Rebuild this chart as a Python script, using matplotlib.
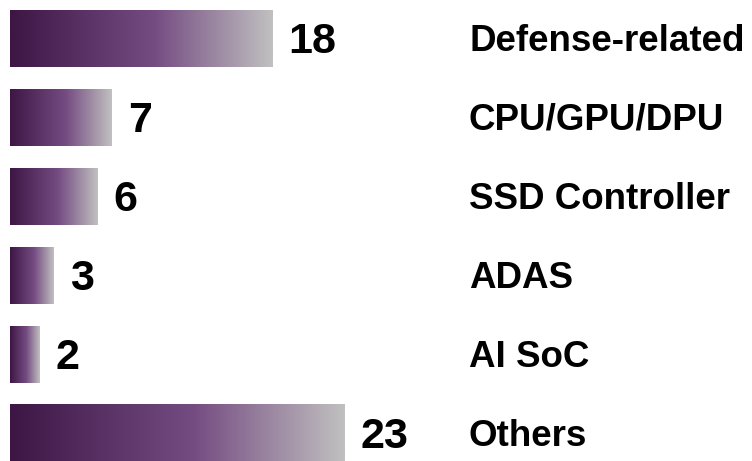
import numpy as np
import matplotlib
matplotlib.use('Agg')
import matplotlib.pyplot as plt
from matplotlib.colors import LinearSegmentedColormap

plt.rcParams['font.family'] = ['Liberation Sans', 'DejaVu Sans']

# data
categories = ['Defense-related', 'CPU/GPU/DPU', 'SSD Controller', 'ADAS', 'AI SoC', 'Others']
counts = [18, 7, 6, 3, 2, 23]

# purple -> grey fade used inside every bar
cmap = LinearSegmentedColormap.from_list(
    'fade', [(0.0, '#3d1645'), (0.55, '#754c82'), (1.0, '#c0c0c0')])

fig = plt.figure(figsize=(7.52, 4.61), dpi=100)
ax = fig.add_axes([0, 0, 1, 1])

px = 14.56   # pixels per unit along x
py = 79.0    # pixels per row
bar_h = 0.72

grad = np.linspace(0, 1, 256).reshape(1, -1)
for i, (cat, n) in enumerate(zip(categories, counts)):
    ax.imshow(grad, cmap=cmap, aspect='auto', interpolation='bilinear',
              extent=(0, n, i + bar_h / 2, i - bar_h / 2))
    # baseline placed so the glyphs sit centred on the bar
    ax.text(n + 16 / px, i + 14.8 / py, str(n), fontsize=31, fontweight='bold',
            va='baseline', ha='left', color='black')
    ax.text(459 / px, i + 12.5 / py, cat, fontsize=26.5, fontweight='bold',
            va='baseline', ha='left', color='black')

# imshow resets limits, put them back
ax.set_xlim(-10 / px, 742 / px)
ax.set_ylim(5.354, -0.487)
ax.axis('off')

fig.savefig('out.png', dpi=100)
